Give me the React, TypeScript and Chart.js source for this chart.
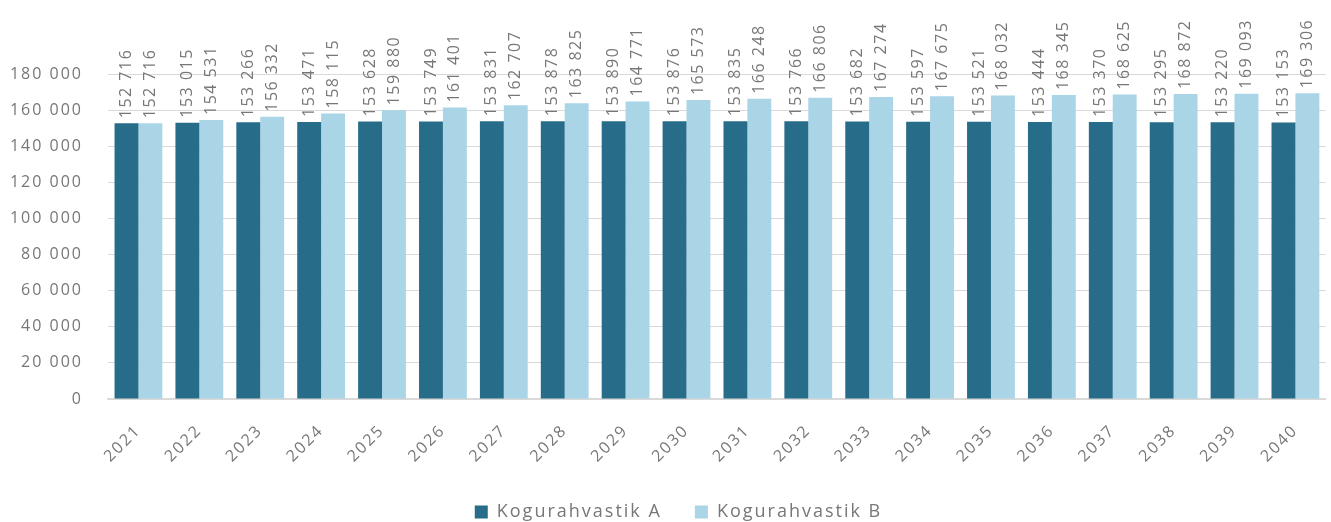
import React, { useEffect, useRef } from "react";
import { Chart, registerables } from "chart.js";

Chart.register(...registerables);

const years = ["2021","2022","2023","2024","2025","2026","2027","2028","2029","2030","2031","2032","2033","2034","2035","2036","2037","2038","2039","2040"];
const seriesA = [152716,153015,153266,153471,153628,153749,153831,153878,153890,153876,153835,153766,153682,153597,153521,153444,153370,153295,153220,153153];
const seriesB = [152716,154531,156332,158115,159880,161401,162707,163825,164771,165573,166248,166806,167274,167675,168032,168345,168625,168872,169093,169306];
const seriesNames = ["Kogurahvastik A", "Kogurahvastik B"];
const yMax = 180000;
const yStep = 20000;

const DARK = "#276D8A";
const LIGHT = "#A9D5E7";
const TEXT = "#777777";
const FONT = "'Open Sans', sans-serif";

const fmt = (v: number) => String(Math.round(v)).replace(/\B(?=(\d{3})+(?!\d))/g, " ");

const spacingPlugin = {
  id: "spacing",
  beforeUpdate(chart: any) { chart.ctx.letterSpacing = "2px"; },
  beforeLayout(chart: any) { chart.ctx.letterSpacing = "2px"; },
  afterLayout(chart: any) {
    const lg = chart.legend;
    if (lg) { lg.left += 13; lg.right += 13; }
  },
  beforeDraw(chart: any) { chart.ctx.letterSpacing = "2px"; },
};

const labelPlugin = {
  id: "barLabels",
  afterDatasetsDraw(chart: any) {
    const ctx = chart.ctx;
    ctx.save();
    ctx.letterSpacing = "1.5px";
    ctx.font = `16px ${FONT}`;
    ctx.fillStyle = TEXT;
    ctx.textAlign = "left";
    ctx.textBaseline = "middle";
    chart.data.datasets.forEach((ds: any, di: number) => {
      const meta = chart.getDatasetMeta(di);
      meta.data.forEach((el: any, i: number) => {
        ctx.save();
        ctx.translate(el.x, el.y - 5);
        ctx.rotate(-Math.PI / 2);
        ctx.fillText(fmt(ds.data[i]), 0, 0);
        ctx.restore();
      });
    });
    ctx.restore();
  },
};

export default function App() {
  const ref = useRef<HTMLCanvasElement>(null);
  useEffect(() => {
    document.body.style.margin = "0";
    const chart = new Chart(ref.current!, {
      type: "bar",
      data: {
        labels: years,
        datasets: [
          { label: seriesNames[0], data: seriesA, backgroundColor: DARK, borderWidth: 0 },
          { label: seriesNames[1], data: seriesB, backgroundColor: LIGHT, borderWidth: 0 },
        ],
      },
      options: {
        animation: false,
        responsive: true,
        maintainAspectRatio: false,
        layout: { padding: { top: 74, left: 0, right: 0, bottom: 0 } },
        datasets: { bar: { categoryPercentage: 0.785, barPercentage: 1.0 } },
        plugins: {
          tooltip: { enabled: false },
          legend: {
            position: "bottom",
            labels: {
              boxWidth: 13,
              boxHeight: 13,
              padding: 33,
              color: TEXT,
              font: { family: FONT, size: 18 },
            },
          },
        },
        scales: {
          x: {
            grid: { display: false, drawTicks: false },
            border: { display: true, color: "#d9d9d9", width: 1.5 },
            ticks: {
              color: TEXT,
              font: { family: FONT, size: 16 },
              minRotation: 45,
              maxRotation: 45,
              padding: 22,
              autoSkip: false,
            },
            afterFit(scale: any) { scale.height = 71; },
          },
          y: {
            min: 0,
            max: yMax,
            grid: { color: "#d9d9d9", lineWidth: 1, drawTicks: false },
            border: { display: false },
            ticks: {
              stepSize: yStep,
              color: TEXT,
              font: { family: FONT, size: 16 },
              padding: 25,
              callback: (v: any) => fmt(Number(v)),
            },
            afterFit(scale: any) { scale.width = 108; },
          },
        },
      },
      plugins: [spacingPlugin, labelPlugin],
    });
    return () => chart.destroy();
  }, []);
  return (
    <div style={{ position: "fixed", left: 0, top: 0, width: 1331, height: 531 }}>
      <canvas ref={ref} />
    </div>
  );
}
